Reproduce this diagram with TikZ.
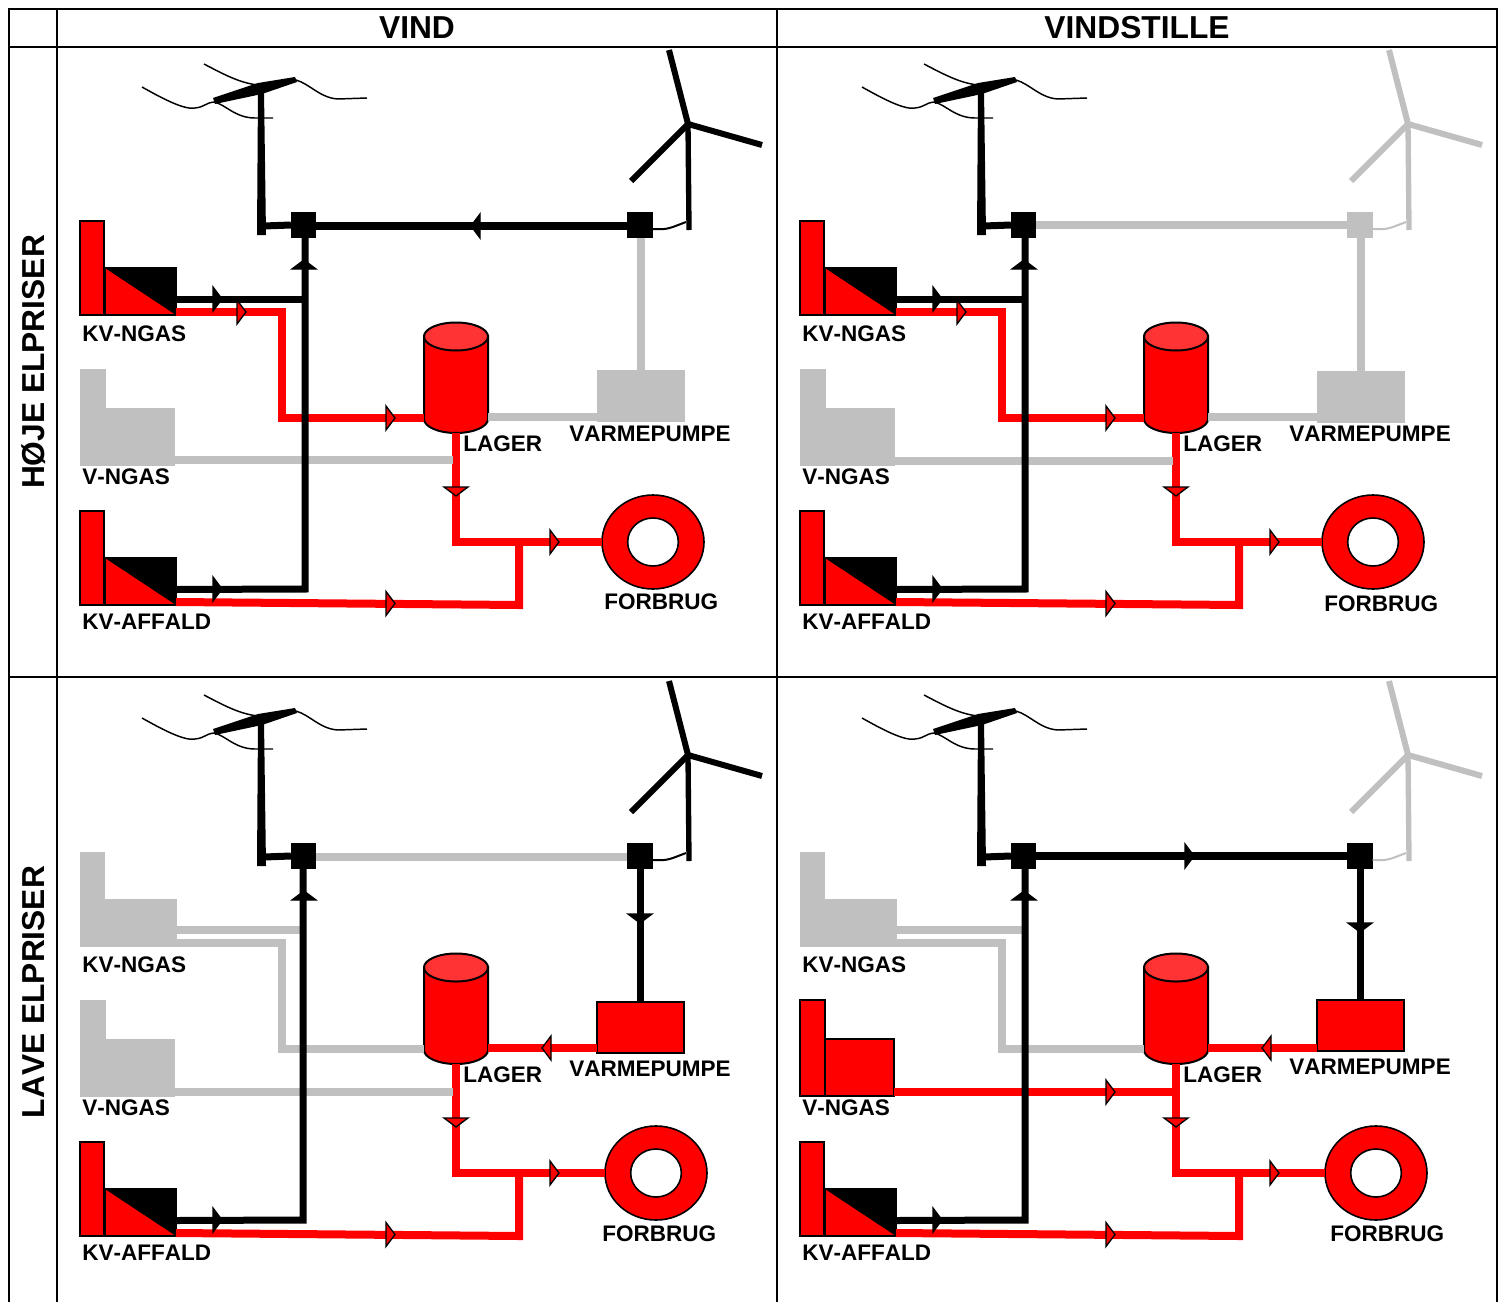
\documentclass[tikz,border=0pt]{standalone}
\usepackage{fontspec}
\setmainfont[Kerning=Off]{Liberation Sans}
\definecolor{idlegrey}{HTML}{C0C0C0}
\definecolor{lagertop}{HTML}{FF3333}
\usetikzlibrary{shapes.geometric}
\tikzset{
  gridline/.style={line width=1.5pt,draw=black},
  headlbl/.style={font=\bfseries\fontsize{23.8}{26}\selectfont,inner sep=0pt},
  lbl/.style={font=\bfseries\fontsize{16.9}{20}\selectfont,inner sep=0pt,anchor=west,yshift=-0.5pt},
  running/.style={fill=red,draw=black,line width=1.5pt},
  idle/.style={fill=idlegrey,draw=idlegrey,line width=0.5pt},
  kvchimney/.style={rectangle,inner sep=0pt,outer sep=0pt,minimum width=18pt,minimum height=70.5pt},
  kvboiler/.style={rectangle,inner sep=0pt,outer sep=0pt,minimum width=53.25pt,minimum height=35.25pt},
  vchimney/.style={rectangle,inner sep=0pt,outer sep=0pt,minimum width=18.75pt,minimum height=72pt},
  vboiler/.style={rectangle,inner sep=0pt,outer sep=0pt,minimum width=51.75pt,minimum height=42.75pt},
  pumpbox/.style={rectangle,inner sep=0pt,outer sep=0pt,minimum width=65.25pt,minimum height=38.25pt},
  gridhub/.style={rectangle,inner sep=0pt,outer sep=0pt,minimum size=19pt},
  lagerspace/.style={rectangle,inner sep=0pt,outer sep=0pt,minimum width=48pt,minimum height=83.25pt},
  lagerwall/.style={fill=red,draw=black,line width=1.5pt},
  heatring/.style={ellipse,fill=red,draw=black,line width=1.2pt,inner sep=0pt,outer sep=0pt,minimum width=76.5pt,minimum height=70.5pt},
  heathole/.style={ellipse,fill=white,draw=black,line width=1.2pt,inner sep=0pt,minimum width=38pt,minimum height=36pt},
  heatpipe/.style={line width=6pt,draw=red},
  idlepipe/.style={line width=6pt,draw=idlegrey},
  powerline/.style={line width=5.25pt,draw=black},
  busline/.style={line width=6pt,draw=black},
  seawave/.style={line width=1.1pt,draw=black},
  heatflow/.style={fill=red,draw=black,line width=1pt},
  powerflow/.style={fill=black,draw=black,line width=1pt},
  flowtip/.pic={\path[pic actions] (0,-12) -- (9,0) -- (0,12) -- cycle;}
}
\newcommand{\kvplant}[5]{
  \node[kvchimney,#3] (#1c) at (92,#2-47) {};
  \node[kvboiler,#3] (#1b) at (140.5,#2-23.5) {};
  \node[lbl] (#1l) at (82,#4) {#5};
}
\newcommand{\kvsplit}[1]{
  \fill[black] (#1.north west) -- (#1.north east) -- (#1.south east) -- cycle;
}
\newcommand{\vplant}[1]{
  \node[vchimney,#1] (vnc) at (92.5,417) {};
  \node[vboiler,#1] (vnb) at (139.5,436.5) {};
  \node[lbl] (vnl) at (82,476) {V-NGAS};
}
\newcommand{\heatpump}[3]{
  \node[pumpbox,#2] (pump) at (640.5,#1) {};
  \node[lbl] (pumpl) at (569,#3) {VARMEPUMPE};
  \coordinate (pumpport) at (597,417);
}
\newcommand{\panelbase}[5]{
  \node[gridhub,fill=black] (hubw) at (303.5,225) {};
  \node[gridhub,fill=#5] (hube) at (640,225) {};
  \fill[black] (258,90) -- (264,90) -- (266,235) -- (257,235) -- cycle;
  \fill[black] (213,98) -- (258,83) -- (295,77) -- (297,82) -- (262,94) -- (215,104) -- cycle;
  \draw[seawave] (142,87) .. controls (165,100) and (185,110) .. (195,108) .. controls (205,107) and (205,103) .. (214,102) .. controls (225,104) and (235,118) .. (255,118) -- (273,118);
  \draw[seawave] (204,64) .. controls (225,75) and (240,83) .. (258,85);
  \draw[seawave] (296,80) .. controls (310,84) and (320,98) .. (338,99) -- (367,98);
  \draw[powerline] (264,226) -- (hubw.west);
  \draw[#4,line width=4.5pt] (688,124) -- (669,50);
  \draw[#4,line width=4.5pt] (688,124) -- (762,145);
  \draw[#4,line width=4.5pt] (688,124) -- (631,181);
  \draw[#4,line width=4pt] (688,124) -- (689,230);
  \draw[#4,line width=1.5pt] ([yshift=-3pt]hube.east) .. controls (668,230) and (670,228) .. (686,222);
  \node[lagerspace] (lager) at (456,377.5) {};
  \draw[lagerwall] (424,336) -- (424,419) arc[start angle=180,end angle=360,x radius=24pt,y radius=10.5pt] -- (488,336) -- cycle;
  \draw[lagerwall,fill=lagertop] (456,336.5) ellipse [x radius=24pt,y radius=10.5pt];
  \node[lbl] (lagerl) at (463,443) {LAGER};
  \node[heatring] (forbrug) at (#1,542) {};
  \node[heathole] (forbrughul) at (#1,542) {};
  \node[lbl] (forbrugl) at (#2,#3) {FORBRUG};
  \kvplant{kva}{605}{running}{621}{KV-AFFALD}
  \kvsplit{kvab}
  \coordinate (lagerfork) at (456,542);
  \coordinate (kvaend) at (519,605);
  \draw[heatpipe] (lager.south) -- (lagerfork) -- (forbrug.west);
  \draw[heatpipe] ([yshift=2.25pt]kvab.south east) -- (kvaend) -- (kvaend |- forbrug.west);
  \pic[heatflow,rotate=-90] at (456,487) {flowtip};
  \pic[heatflow] at (550,542) {flowtip};
  \pic[heatflow] at (386,603.5) {flowtip};
}
\newcommand{\kvnpipes}[3]{
  \coordinate (kvnbend) at (282,312);
  \coordinate (kvnlager) at (282,418);
  \coordinate (kvntee) at (#3,299);
  \draw[#1] ([yshift=2.25pt]kvnb.south east) -- (kvnbend) -- (kvnlager) -- (lager.west |- kvnlager);
  \draw[#2] (kvnb.east |- kvntee) -- (kvntee);
}
\newcommand{\panelcables}[1]{
  \coordinate (kvafoot) at (#1,589);
  \draw[powerline] ([yshift=-6pt]kvab.east) -- (kvafoot) -- (kvafoot |- hubw.south);
  \pic[powerflow] at (213,589) {flowtip};
  \pic[powerflow,rotate=90] at (304,269) {flowtip};
}
\begin{document}
\begin{tikzpicture}[x=0.75pt,y=-0.75pt]
\useasboundingbox (0,0) rectangle (1505,1302);
\draw[gridline] (9,1302) -- (9,9) -- (1497,9) -- (1497,1302);
\draw[gridline] (57,9) -- (57,1302);
\draw[gridline] (777,9) -- (777,1302);
\draw[gridline] (9,47) -- (1497,47);
\draw[gridline] (9,677) -- (1497,677);
\node[headlbl] (vind) at (417,28) {VIND};
\node[headlbl] (vindstille) at (1137,28) {VINDSTILLE};
\node[headlbl,rotate=90] (hoeje) at (34,362) {HØJE ELPRISER};
\node[headlbl,rotate=90] (lave) at (34,992) {LAVE ELPRISER};

\begin{scope}
\panelbase{653}{604}{601}{black}{black}
\kvplant{kvn}{315}{running}{333}{KV-NGAS}
\kvsplit{kvnb}
\vplant{idle}
\heatpump{396}{idle}{433}
\coordinate (vnend) at (453,460);
\draw[idlepipe] (lager.east |- pumpport) -- (pumpport);
\draw[idlepipe] (pump.north |- hube.south) -- (pump.north);
\draw[idlepipe] (vnb.east |- vnend) -- (vnend);
\kvnpipes{heatpipe}{powerline}{305}
\pic[heatflow] at (386,418) {flowtip};
\pic[heatflow] at (237,312) {flowtip};
\draw[busline] ([yshift=-.75pt]hubw.east) -- ([yshift=-.75pt]hube.west);
\pic[powerflow,rotate=180] at (480,226) {flowtip};
\panelcables{305}
\pic[powerflow] at (213,299) {flowtip};
\end{scope}

\begin{scope}[shift={(720,0)}]
\panelbase{653}{604}{603}{idlegrey}{idlegrey}
\kvplant{kvn}{315}{running}{333}{KV-NGAS}
\kvsplit{kvnb}
\vplant{idle}
\heatpump{397}{idle}{433}
\coordinate (vnend) at (453,461);
\draw[idlepipe] (lager.east |- pumpport) -- (pumpport);
\draw[idlepipe] (pump.north |- hube.south) -- (pump.north);
\draw[idlepipe] (vnb.east |- vnend) -- (vnend);
\kvnpipes{heatpipe}{powerline}{305}
\pic[heatflow] at (386,418) {flowtip};
\pic[heatflow] at (237,312) {flowtip};
\draw[idlepipe] (hubw.east) -- (hube.west);
\panelcables{305}
\pic[powerflow] at (213,299) {flowtip};
\end{scope}

\begin{scope}[shift={(0,631)}]
\panelbase{656}{602}{602}{black}{black}
\kvplant{kvn}{315}{idle}{333}{KV-NGAS}
\vplant{idle}
\heatpump{396}{running}{437}
\coordinate (vnend) at (453,461);
\draw[heatpipe] (lager.east |- pumpport) -- (pumpport);
\draw[powerline] (pump.north |- hube.south) -- (pump.north);
\draw[idlepipe] (vnb.east |- vnend) -- (vnend);
\kvnpipes{idlepipe}{idlepipe}{303}
\pic[heatflow,rotate=180] at (551,417) {flowtip};
\pic[powerflow,rotate=-90] at (640,283) {flowtip};
\draw[idlepipe] ([yshift=-.75pt]hubw.east) -- ([yshift=-.75pt]hube.west);
\panelcables{303}
\end{scope}

\begin{scope}[shift={(720,631)}]
\panelbase{656}{610}{602}{idlegrey}{black}
\kvplant{kvn}{315}{idle}{333}{KV-NGAS}
\vplant{running}
\heatpump{394}{running}{435}
\coordinate (vnend) at (456,461);
\draw[heatpipe] (lager.east |- pumpport) -- (pumpport);
\draw[powerline] (pump.north |- hube.south) -- (pump.north);
\draw[heatpipe] (vnb.east |- vnend) -- (vnend);
\kvnpipes{idlepipe}{idlepipe}{302}
\pic[heatflow,rotate=180] at (551,417) {flowtip};
\pic[powerflow,rotate=-90] at (640,292) {flowtip};
\pic[heatflow] at (386,461) {flowtip};
\draw[busline] (hubw.east) -- (hube.west);
\pic[powerflow] at (465,225) {flowtip};
\panelcables{305}
\end{scope}
\end{tikzpicture}
\end{document}
